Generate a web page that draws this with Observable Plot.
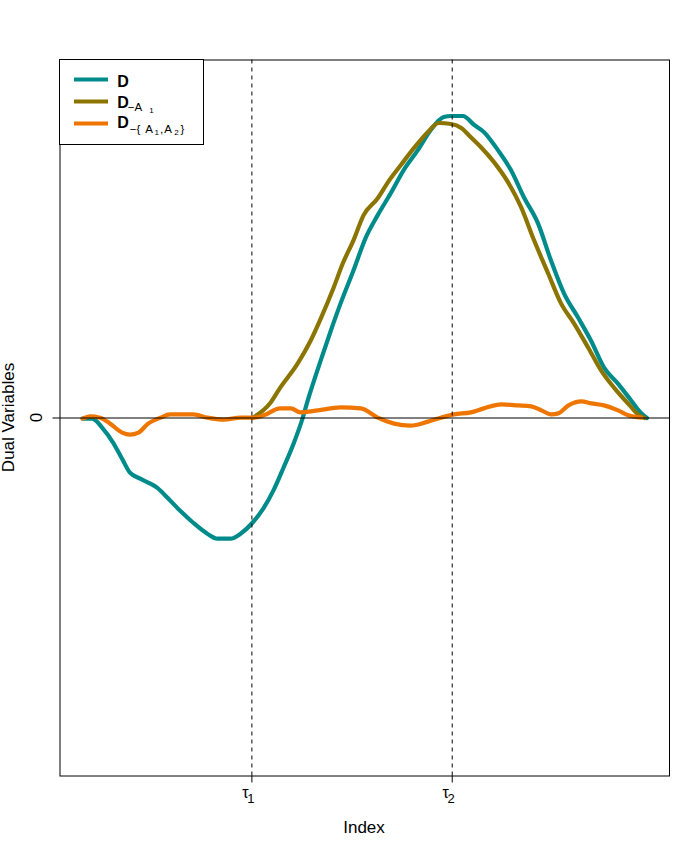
<!DOCTYPE html>
<html><head><meta charset="utf-8">
<script src="https://cdn.jsdelivr.net/npm/d3@7"></script>
<script src="https://cdn.jsdelivr.net/npm/@observablehq/plot@0.6"></script>
<style>body{margin:0;background:#fff} #chart svg{display:block}</style>
</head><body><div id="chart"></div>
<script>
// Change points (index positions) and their tick labels
const tauValues = [30, 65.5];
const tauSubs = ["1", "2"];
const yTicks = [0];

// Series D
const dIndex = [0,1.7,3.6,5.4,7.0,8.4,10.2,12.0,13.2,15.0,17.3,19.6,22.1,23.9,26.2,28.0,30.1,32.1,33.8,35.6,37.4,39.0,39.9,42.2,44.0,45.7,48.0,50.2,52.3,54.6,56.9,59.4,61.7,64.0,65.3,67.4,69.4,71.1,73.6,75.9,78.2,80.7,83.0,85.3,87.8,90.1,92.4,94.9,97.2,99.0,100];
const dValue = [-0.2,-0.2,-3.2,-7.4,-12.3,-16.5,-18.3,-19.8,-21.0,-24.0,-28.0,-31.6,-34.9,-36.4,-36.4,-34.9,-31.6,-27.1,-21.9,-15.0,-7.7,0,5.3,17.4,26.4,34.5,44.5,54.5,61.2,67.8,74.8,80.8,86.9,90.8,91.1,91.1,88.4,86.3,80.8,74.8,66.6,58.7,47.5,37.6,30.3,23.3,15.2,10.3,5.3,1.4,0];

// Series D_{-A1}
const dA1Index = [30.1,33.3,35.0,38.1,40.4,42.2,44.5,46.1,48.0,49.8,52.3,54.1,56.4,58.7,61.2,63.1,65.3,67.1,68.8,70.6,72.9,75.4,77.7,80.0,82.5,84.8,87.1,89.6,91.9,94.2,96.7,98.7,99.6];
const dA1Value = [0,4.6,9.1,16.4,23.3,30.0,39.4,46.6,53.6,61.2,66.3,71.1,76.3,81.4,86.3,89.0,88.7,87.5,84.7,81.7,77.2,71.1,63.6,53.6,43.6,34.5,28.5,21.2,14.3,9.1,4.3,0.7,0];

// Series D_{-{A1,A2}}
const dA12Index = [0,1.3,3.1,4.9,7.0,8.4,9.9,11.6,13.8,15.5,19.6,22.1,25.0,28.0,30.3,32.1,35.0,36.9,38.6,41.7,45.7,49.3,52.3,55.2,58.1,61.2,63.5,65.8,68.8,71.1,74.2,77.2,79.5,81.3,83.0,84.3,86.1,88.4,90.1,92.4,94.9,96.7,99.0];
const dA12Value = [-0.2,0.5,0.1,-1.7,-4.4,-5.0,-4.4,-1.7,0.1,1.1,1.1,0.1,-0.5,0.1,0.1,0.8,2.9,2.9,1.7,2.3,3.2,2.9,0.1,-1.7,-2.3,-1.1,0.1,1.1,1.7,2.9,4.1,3.8,3.5,2.3,1.1,1.4,3.8,5.0,4.4,3.8,2.3,0.8,0.1];

const seriesNames = ["D", "D-A1", "D-A1A2"];
const seriesColors = ["#008B8B", "#8B7500", "#EE7600"];

const toRows = (xs, ys, s) => xs.map((x, k) => ({i: x, v: ys[k], s}));
const rowsD = toRows(dIndex, dValue, seriesNames[0]);
const rowsA1 = toRows(dA1Index, dA1Value, seriesNames[1]);
const rowsA12 = toRows(dA12Index, dA12Value, seriesNames[2]);

const FONT = "'Liberation Sans', Arial, Helvetica, sans-serif";
const LW = 4.2;

const plot = Plot.plot({
  width: 700, height: 850,
  marginLeft: 59.5, marginRight: 31, marginTop: 59.5, marginBottom: 74.5,
  style: {fontFamily: FONT, background: "white", overflow: "visible"},
  x: {domain: [-4, 104]},
  y: {domain: [-108, 108]},
  color: {domain: seriesNames, range: seriesColors},
  marks: [
    Plot.line(rowsD, {x: "i", y: "v", stroke: "s", strokeWidth: LW, curve: "monotone-x"}),
    Plot.line(rowsA1, {x: "i", y: "v", stroke: "s", strokeWidth: LW, curve: "monotone-x"}),
    Plot.line(rowsA12, {x: "i", y: "v", stroke: "s", strokeWidth: LW, curve: "monotone-x"}),
    Plot.ruleX(tauValues, {stroke: "black", strokeWidth: 1, strokeDasharray: "4,4"}),
    Plot.ruleY(yTicks, {stroke: "black", strokeWidth: 1}),
    Plot.frame({stroke: "black", strokeWidth: 1}),
    Plot.axisX({ticks: tauValues, tickSize: 7, tickFormat: () => "", label: null, stroke: "black"}),
    Plot.axisY({ticks: yTicks, tickSize: 7, tickFormat: () => "", label: null, stroke: "black"})
  ]
});

document.getElementById("chart").appendChild(plot);

const svg = d3.select(plot);
const xs = plot.scale("x"), ys = plot.scale("y");
const g = svg.append("g").attr("font-family", FONT).attr("fill", "black");

// x tick labels tau_1, tau_2
tauValues.forEach((t, k) => {
  const px = xs.apply(t);
  g.append("text").attr("x", px - 6).attr("y", 798).attr("font-size", 16).text("τ");
  g.append("text").attr("x", px - 0.5).attr("y", 803).attr("font-size", 13).text(tauSubs[k]);
});

// y tick label "0"
yTicks.forEach(t => {
  const py = ys.apply(t);
  g.append("text").attr("transform", `translate(42,${py}) rotate(-90)`)
    .attr("text-anchor", "middle").attr("font-size", 17).text(String(t));
});

// axis titles
g.append("text").attr("x", 364).attr("y", 833).attr("text-anchor", "middle").attr("font-size", 17).text("Index");
g.append("text").attr("transform", `translate(14,${ys.apply(0)}) rotate(-90)`)
  .attr("text-anchor", "middle").attr("font-size", 17).text("Dual Variables");

// legend
const lg = svg.append("g").attr("font-family", FONT).attr("fill", "black");
lg.append("rect").attr("x", 59.5).attr("y", 59.5).attr("width", 144).attr("height", 85)
  .attr("fill", "white").attr("stroke", "black").attr("stroke-width", 1);
const ly = [79.5, 101.5, 123.5];
seriesColors.forEach((c, k) => {
  lg.append("line").attr("x1", 74).attr("x2", 108).attr("y1", ly[k]).attr("y2", ly[k])
    .attr("stroke", c).attr("stroke-width", LW);
});
const piece = (x, y, size, str, bold) => lg.append("text").attr("x", x).attr("y", y)
  .attr("font-size", size).attr("font-weight", bold ? "bold" : "normal").text(str);
piece(123, 87, 16, "D", true);
piece(123, 107.5, 16, "D", true);
piece(135, 110.7, 11.5, "−A");
piece(151.5, 112.7, 8, "1");
piece(123, 128, 16, "D", true);
piece(135, 132.7, 11.5, "−{");
piece(149, 132.7, 11.5, "A");
piece(156.8, 135.3, 8, "1");
piece(161.5, 132.7, 11.5, ",");
piece(168, 132.7, 11.5, "A");
piece(176.5, 135.3, 8, "2");
piece(182.5, 132.7, 11.5, "}");
</script>
</body></html>
